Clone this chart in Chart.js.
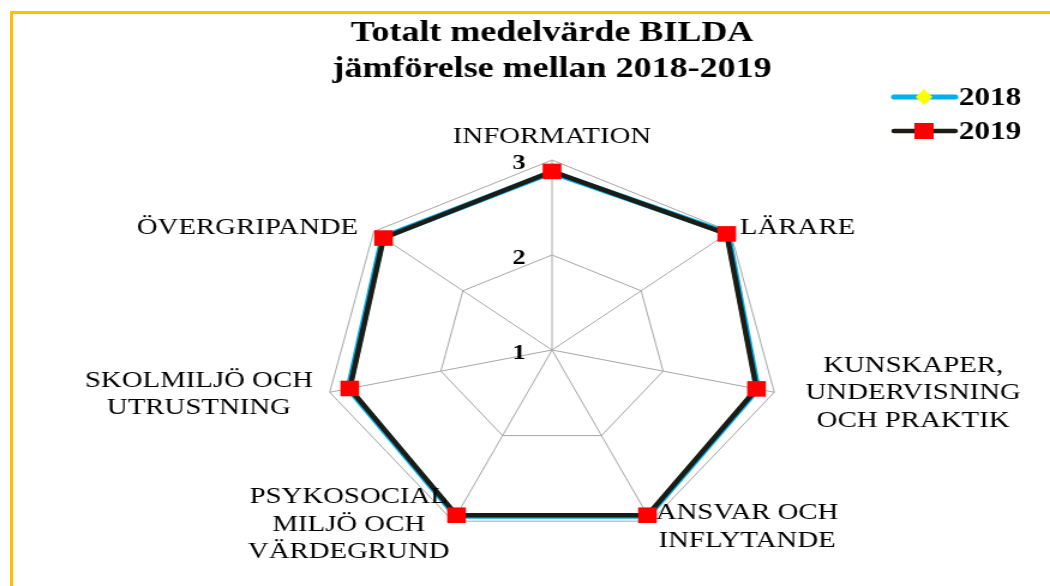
<!DOCTYPE html>
<html>
<head>
<meta charset="utf-8">
<script src="https://cdn.jsdelivr.net/npm/chart.js@4.4.0/dist/chart.umd.min.js"></script>
<style>
  html, body { margin: 0; padding: 0; background: #fff; }
  body { width: 1050px; height: 586px; overflow: hidden; position: relative; }
  #frame { position: absolute; left: 10px; top: 11px; width: 1100px; height: 700px;
           border-top: 3px solid #ffc000; border-left: 3px solid #ffc000; }
  #c { position: absolute; left: 0; top: 0; }
</style>
</head>
<body>
<div id="frame"></div>
<!-- drawn at 875 wide and stretched to 1050, like the squeezed original -->
<canvas id="c" width="875" height="586" style="width:1050px;height:586px"></canvas>
<script>
const categories = [
  ['INFORMATION'],
  ['LÄRARE'],
  ['KUNSKAPER,', 'UNDERVISNING', 'OCH PRAKTIK'],
  ['ANSVAR OCH', 'INFLYTANDE'],
  ['PSYKOSOCIAL', 'MILJÖ OCH', 'VÄRDEGRUND'],
  ['SKOLMILJÖ OCH', 'UTRUSTNING'],
  ['ÖVERGRIPANDE']
];
const values2018 = [2.87, 2.97, 2.85, 2.94, 2.94, 2.83, 2.90];
const values2019 = [2.88, 2.96, 2.84, 2.93, 2.93, 2.82, 2.89];
const tickValues = [1, 2, 3];
const tickLabels = ['1', '2', '3'];
const seriesNames = ['2018', '2019'];

// where each category label sits next to its outer vertex: [dx, dy of first line, side]
const labelPlace = [
  [0, -23, 'center'],
  [8, -4, 'left'],
  [26, -27, 'left'],
  [4, -8, 'left'],
  [-3, -24, 'right'],
  [-14, -12, 'right'],
  [-13, -4, 'right']
];

const serif = '"Liberation Serif", "Times New Roman", serif';

const labelPlugin = {
  id: 'radarLabels',
  afterDraw(chart) {
    const ctx = chart.ctx;
    const s = chart.scales.r;
    ctx.save();
    ctx.fillStyle = '#000';

    // tick numbers to the left of the top spoke
    ctx.font = 'bold 22px ' + serif;
    ctx.textAlign = 'right';
    ctx.textBaseline = 'middle';
    tickValues.forEach((v, i) => {
      const y = s.yCenter - s.getDistanceFromCenterForValue(v);
      ctx.fillText(tickLabels[i], s.xCenter - 22, y + 3);
    });

    // category labels
    ctx.font = '24px ' + serif;
    ctx.textAlign = 'center';
    const lh = 27.5;
    categories.forEach((lines, i) => {
      const p = s.getPointPosition(i, s.drawingArea);
      const [dx, dy, side] = labelPlace[i];
      const w = Math.max(...lines.map(l => ctx.measureText(l).width));
      let cx = p.x + dx;
      if (side === 'left') cx += w / 2;
      if (side === 'right') cx -= w / 2;
      lines.forEach((l, k) => ctx.fillText(l, cx, p.y + dy + k * lh));
    });

    // legend
    const rows = [
      { y: 97, line: '#00b0f0', lw: 5, fill: '#ffff00', shape: 'diamond' },
      { y: 131, line: '#1c1c14', lw: 4.5, fill: '#ff0000', shape: 'square' }
    ];
    ctx.font = 'bold 26px ' + serif;
    ctx.textAlign = 'left';
    rows.forEach((r, i) => {
      ctx.strokeStyle = r.line;
      ctx.lineWidth = r.lw;
      ctx.lineCap = 'round';
      ctx.beginPath();
      ctx.moveTo(745, r.y);
      ctx.lineTo(796, r.y);
      ctx.stroke();
      ctx.fillStyle = r.fill;
      ctx.beginPath();
      if (r.shape === 'diamond') {
        ctx.moveTo(770, r.y - 8); ctx.lineTo(777, r.y); ctx.lineTo(770, r.y + 8); ctx.lineTo(763, r.y);
        ctx.closePath();
      } else {
        ctx.rect(762, r.y - 8, 16, 16);
      }
      ctx.fill();
      ctx.fillStyle = '#000';
      ctx.fillText(seriesNames[i], 799, r.y + 1);
    });
    ctx.restore();
  }
};

new Chart(document.getElementById('c'), {
  type: 'radar',
  data: {
    labels: categories,
    datasets: [
      {
        label: seriesNames[0],
        data: values2018,
        borderColor: '#00b0f0',
        borderWidth: 5.5,
        backgroundColor: 'transparent',
        fill: false,
        pointStyle: 'rectRot',
        pointRadius: 7,
        pointBackgroundColor: '#ffff00',
        pointBorderColor: '#ffff00',
        pointBorderWidth: 0,
        order: 2
      },
      {
        label: seriesNames[1],
        data: values2019,
        borderColor: '#1c1c14',
        borderWidth: 4.5,
        backgroundColor: 'transparent',
        fill: false,
        pointStyle: 'rect',
        pointRadius: 11,
        pointBackgroundColor: '#ff0000',
        pointBorderColor: '#ff0000',
        pointBorderWidth: 0,
        order: 1
      }
    ]
  },
  options: {
    responsive: false,
    animation: false,
    devicePixelRatio: 1,
    layout: { padding: { top: 10, left: 270, right: 225, bottom: 46 } },
    plugins: {
      title: {
        display: true,
        text: ['Totalt medelvärde BILDA', 'jämförelse mellan 2018-2019'],
        color: '#000',
        font: { family: serif, size: 30, weight: 'bold', lineHeight: 1.2 },
        padding: { top: 5, bottom: 73 }
      },
      legend: { display: false },
      tooltip: { enabled: false }
    },
    scales: {
      r: {
        min: 1,
        max: 3,
        ticks: { display: false, stepSize: 1 },
        grid: { color: '#a6a6a6', lineWidth: 1 },
        angleLines: { color: '#a6a6a6', lineWidth: 1 },
        pointLabels: { display: false }
      }
    }
  },
  plugins: [labelPlugin]
});
</script>
</body>
</html>
